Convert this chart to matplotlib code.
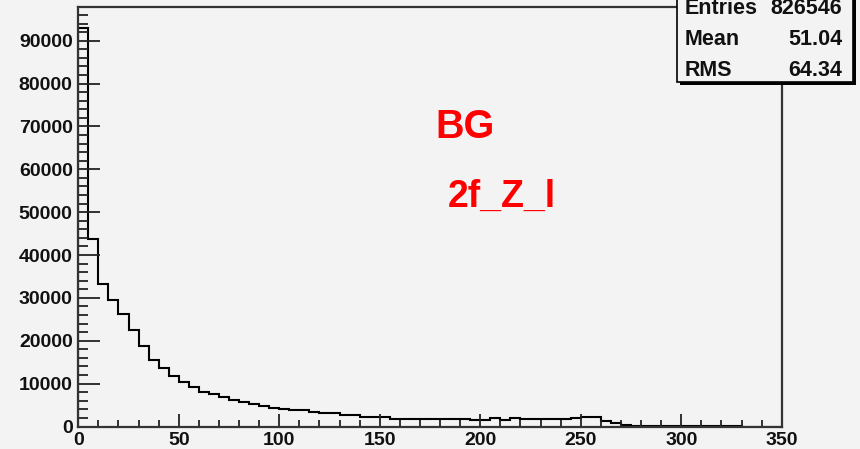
import numpy as np
import matplotlib
matplotlib.use("Agg")
import matplotlib.pyplot as plt
from matplotlib.patches import Rectangle
from matplotlib.ticker import MultipleLocator

# histogram contents, 5-unit bins from 0 to 350
bin_width = 5
x_min, x_max = 0, 350
counts = [
    93000, 43800, 33300, 29400, 26300, 22600, 18700, 15600, 13600, 11800,
    10400, 9100, 8100, 7500, 6800, 6200, 5700, 5200, 4800, 4400,
    4100, 3900, 3850, 3400, 3150, 3100, 2700, 2650, 2300, 2300,
    2250, 1800, 1780, 1800, 1760, 1800, 1780, 1800, 1790, 1520,
    1500, 1900, 1520, 1900, 1680, 1680, 1660, 1680, 1700, 2060,
    2300, 2300, 1280, 820, 300, 220, 200, 180, 170, 160,
    150, 140, 130, 120, 100, 90, 0, 0, 0, 0,
]
y_max = 97800

x_ticks = [0, 50, 100, 150, 200, 250, 300, 350]
y_ticks = [0, 10000, 20000, 30000, 40000, 50000, 60000, 70000, 80000, 90000]

stats_names = ["Entries", "Mean", "RMS"]
stats_values = ["826546", "51.04", "64.34"]

title_lines = ["BG", "2f_Z_l"]

bg = "#f3f3f3"
plt.rcParams["font.family"] = ["Liberation Sans", "DejaVu Sans"]
plt.rcParams["font.weight"] = "bold"

W, H = 860, 449
fig = plt.figure(figsize=(W / 100, H / 100), dpi=100, facecolor=bg)

# frame in pixels: left 78, right 782, top 7, bottom 426
ax = fig.add_axes([78.3 / W, 1 - 426.5 / H, (781.7 - 78.3) / W, (426.5 - 7.3) / H])
ax.set_facecolor(bg)

edges = np.arange(x_min, x_max + bin_width, bin_width)
ax.stairs(counts, edges, color="black", linewidth=1.5, baseline=0)

ax.set_xlim(x_min, x_max)
ax.set_ylim(0, y_max)

ax.set_xticks(x_ticks)
ax.set_xticklabels([str(t) for t in x_ticks])
ax.set_yticks(y_ticks)
ax.set_yticklabels([str(t) for t in y_ticks])
ax.xaxis.set_minor_locator(MultipleLocator(10))
ax.yaxis.set_minor_locator(MultipleLocator(2000))

ax.tick_params(axis="x", which="major", direction="in", length=9.5, width=1.3,
               labelsize=14, pad=4.0, color="#222222")
ax.tick_params(axis="x", which="minor", direction="in", length=4.8, width=1.3,
               color="#222222")
ax.tick_params(axis="y", which="major", direction="in", length=16, width=1.3,
               labelsize=14, pad=4.0, color="#222222")
ax.tick_params(axis="y", which="minor", direction="in", length=7.5, width=1.3,
               color="#222222")
ax.tick_params(top=False, right=False)
for lab in ax.get_xticklabels() + ax.get_yticklabels():
    lab.set_fontweight("bold")
    lab.set_color("#111111")

for s in ax.spines.values():
    s.set_linewidth(1.6)
    s.set_color("#333333")

# red labels inside the frame
fig.text(435 / W, 1 - 138 / H, title_lines[0], color="red", fontsize=28.5,
         fontweight="bold", ha="left", va="baseline")
fig.text(448 / W, 1 - 207 / H, title_lines[1], color="red", fontsize=27,
         fontweight="bold", ha="left", va="baseline")

# stats box in the top right corner, with a drop shadow
bx0, bx1, by0, by1 = 676.7, 853.3, -12, 82
shadow = Rectangle(((bx0 + 3) / W, 1 - (by1 + 3) / H), (bx1 - bx0) / W, (by1 - by0) / H,
                   transform=fig.transFigure, facecolor="black", edgecolor="black",
                   linewidth=0, zorder=5)
box = Rectangle((bx0 / W, 1 - by1 / H), (bx1 - bx0) / W, (by1 - by0) / H,
                transform=fig.transFigure, facecolor=bg, edgecolor="black",
                linewidth=1.2, zorder=6)
fig.patches.extend([shadow, box])

for i, (name, val) in enumerate(zip(stats_names, stats_values)):
    yb = 1 - (14.5 + 30.5 * i) / H
    fig.text(685 / W, yb, name, fontsize=15.5, fontweight="bold",
             ha="left", va="baseline", zorder=7, color="#111111")
    fig.text(842 / W, yb, val, fontsize=15.5, fontweight="bold",
             ha="right", va="baseline", zorder=7, color="#111111")

fig.savefig("out.png", dpi=100, facecolor=bg)
